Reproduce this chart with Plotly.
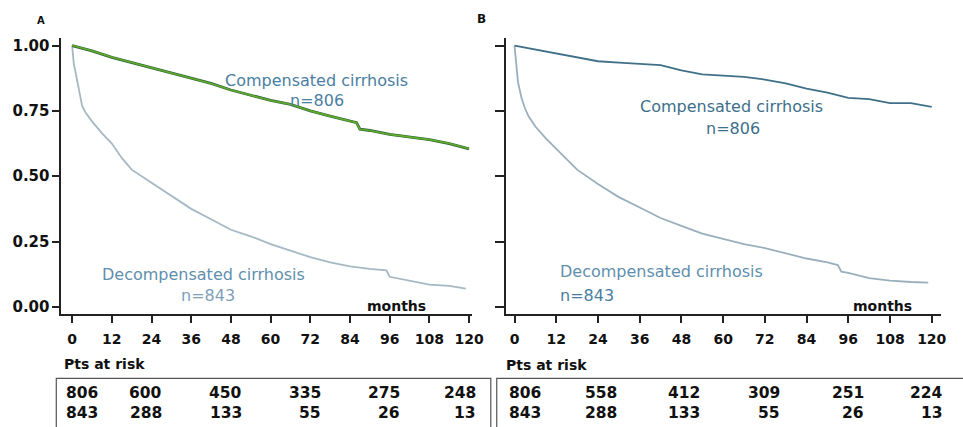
import plotly.graph_objects as go

# ---------------- data ----------------
x_ticks = [0, 12, 24, 36, 48, 60, 72, 84, 96, 108, 120]
y_ticks = [0.0, 0.25, 0.5, 0.75, 1.0]
y_tick_labels = ["0.00", "0.25", "0.50", "0.75", "1.00"]

# Panel A
a_comp_t = [0, 6, 12, 18, 24, 30, 36, 42, 48, 54, 60, 66, 72, 78, 84, 86, 87, 90, 96, 102, 108, 114, 120]
a_comp_s = [1.00, 0.98, 0.955, 0.935, 0.915, 0.895, 0.875, 0.855, 0.83, 0.81, 0.79, 0.775, 0.75, 0.73,
            0.71, 0.705, 0.68, 0.675, 0.66, 0.65, 0.64, 0.625, 0.605]
a_dec_t = [0, 0.5, 1, 2, 3, 4, 6, 9, 12, 15, 18, 24, 30, 36, 42, 48, 54, 60, 66, 72, 78, 84, 90, 95, 96,
           102, 108, 114, 119]
a_dec_s = [1.00, 0.93, 0.90, 0.83, 0.77, 0.745, 0.71, 0.665, 0.625, 0.57, 0.525, 0.475, 0.425, 0.375,
           0.335, 0.295, 0.27, 0.24, 0.215, 0.19, 0.17, 0.155, 0.145, 0.14, 0.115, 0.10, 0.085, 0.08, 0.07]

# Panel B
b_comp_t = [0, 6, 12, 18, 24, 30, 36, 42, 48, 54, 60, 66, 72, 78, 84, 90, 96, 102, 108, 114, 120]
b_comp_s = [1.00, 0.985, 0.97, 0.955, 0.94, 0.935, 0.93, 0.925, 0.905, 0.89, 0.885, 0.88, 0.87, 0.855,
            0.835, 0.82, 0.80, 0.795, 0.78, 0.78, 0.765]
b_dec_t = [0, 0.5, 1, 2, 3, 4, 6, 9, 12, 15, 18, 24, 30, 36, 42, 48, 54, 60, 66, 72, 78, 84, 90, 93, 94,
           96, 102, 108, 114, 119]
b_dec_s = [1.00, 0.92, 0.86, 0.80, 0.76, 0.73, 0.69, 0.645, 0.605, 0.565, 0.525, 0.47, 0.42, 0.38, 0.34,
           0.31, 0.28, 0.26, 0.24, 0.225, 0.205, 0.185, 0.17, 0.16, 0.135, 0.13, 0.11, 0.10, 0.095, 0.093]

risk_months = [0, 24, 48, 72, 96, 120]
a_risk_comp = [806, 600, 450, 335, 275, 248]
a_risk_dec = [843, 288, 133, 55, 26, 13]
b_risk_comp = [806, 558, 412, 309, 251, 224]
b_risk_dec = [843, 288, 133, 55, 26, 13]

# ---------------- figure ----------------
W, H = 963, 427
FAM = "DejaVu Sans, Liberation Sans, Arial"
fig = go.Figure()

fig.add_trace(go.Scatter(x=a_dec_t, y=a_dec_s, mode="lines", line=dict(color="#a6b8c3", width=1.8),
                         xaxis="x", yaxis="y", showlegend=False))
fig.add_trace(go.Scatter(x=a_comp_t, y=a_comp_s, mode="lines", line=dict(color="#2f5e3a", width=2.8),
                         xaxis="x", yaxis="y", showlegend=False))
fig.add_trace(go.Scatter(x=a_comp_t, y=a_comp_s, mode="lines", line=dict(color="#5fae2a", width=1.6),
                         xaxis="x", yaxis="y", showlegend=False))
fig.add_trace(go.Scatter(x=b_dec_t, y=b_dec_s, mode="lines", line=dict(color="#9aafbc", width=1.8),
                         xaxis="x2", yaxis="y2", showlegend=False))
fig.add_trace(go.Scatter(x=b_comp_t, y=b_comp_s, mode="lines", line=dict(color="#3f7088", width=1.8),
                         xaxis="x2", yaxis="y2", showlegend=False))

tickfont = dict(family=FAM, size=14, color="#111111", weight="bold")
ydom = [1 - 315 / H, 1 - 37 / H]
axis_common = dict(showline=True, linecolor="#222222", linewidth=1.5, ticks="outside",
                   tickwidth=1.5, tickcolor="#222222", showgrid=False, zeroline=False)

fig.update_layout(
    width=W, height=H, margin=dict(l=0, r=0, t=0, b=0),
    paper_bgcolor="white", plot_bgcolor="white",
    xaxis=dict(domain=[62 / W, 478 / W], range=[-3.3, 120.9], tickvals=x_ticks, anchor="y",
               ticklen=7, ticklabelstandoff=5, tickfont=tickfont, **axis_common),
    yaxis=dict(domain=ydom, range=[-0.0266, 1.03], tickvals=y_ticks, ticktext=y_tick_labels, anchor="x",
               ticklen=7, tickfont=dict(family=FAM, size=15, color="#111111", weight="bold"), **axis_common),
    xaxis2=dict(domain=[512 / W, 953 / W], range=[-2.56, 122.7], tickvals=x_ticks, anchor="y2",
                ticklen=7, ticklabelstandoff=5, tickfont=tickfont, **axis_common),
    yaxis2=dict(domain=ydom, range=[-0.0266, 1.03], tickvals=y_ticks, showticklabels=False, anchor="x2",
                ticklen=9, **axis_common),
)

ann = []


def txt(x, y, s, xref, yref, color, size=16, bold=False, xanchor="center", yanchor="middle", xshift=0):
    f = dict(family=FAM, size=size, color=color)
    if bold:
        f["weight"] = "bold"
    ann.append(dict(x=x, y=y, xref=xref, yref=yref, text=s, showarrow=False, font=f,
                    xanchor=xanchor, yanchor=yanchor, xshift=xshift))


# curve labels
txt(74, 0.865, "Compensated cirrhosis", "x", "y", "#4a7ea2")
txt(74, 0.79, "n=806", "x", "y", "#4a7ea2")
txt(39.7, 0.122, "Decompensated cirrhosis", "x", "y", "#5f8fae")
txt(41, 0.045, "n=843", "x", "y", "#7fa0b8")
txt(98.2, 0.004, "months", "x", "y", "#111111", size=14, bold=True)

txt(62.5, 0.766, "Compensated cirrhosis", "x2", "y2", "#3d6f8a")
txt(62.8, 0.682, "n=806", "x2", "y2", "#3d6f8a")
txt(12.5, 0.137, "Decompensated cirrhosis", "x2", "y2", "#5f8fae", xanchor="left")
txt(12.5, 0.045, "n=843", "x2", "y2", "#4a7ea2", xanchor="left")
txt(105.7, 0.004, "months", "x2", "y2", "#111111", size=14, bold=True)

# panel letters
txt(42 / W, 1 - 20 / H, "A", "paper", "paper", "#111111", size=10, bold=True)
txt(488 / W, 1 - 18 / H, "B", "paper", "paper", "#111111", size=12, bold=True)

# Pts at risk
txt(63 / W, 1 - 366 / H, "Pts at risk", "paper", "paper", "#111111", size=14, bold=True, xanchor="left")
txt(510 / W, 1 - 367 / H, "Pts at risk", "paper", "paper", "#111111", size=14, bold=True, xanchor="left")

row1_y = 1 - 395 / H
row2_y = 1 - 415 / H
numfont = dict(family=FAM, size=15.5, color="#111111", weight="bold")
col_shift_a = [-8, 12, 13, 13, 12, 9]
col_shift_b = [-8, 21, 21, 17, 18, 13]
for i, m in enumerate(risk_months):
    for xr, vals1, vals2, shifts in (("x", a_risk_comp, a_risk_dec, col_shift_a),
                                      ("x2", b_risk_comp, b_risk_dec, col_shift_b)):
        xa = "left" if i == 0 else "right"
        for yy, v in ((row1_y, vals1[i]), (row2_y, vals2[i])):
            ann.append(dict(x=m, y=yy, xref=xr, yref="paper", text=str(v), showarrow=False,
                            font=numfont, xanchor=xa, yanchor="middle", xshift=shifts[i]))

fig.update_layout(annotations=ann)

# table boxes
shapes = [
    dict(type="rect", xref="paper", yref="paper", x0=57 / W, x1=497 / W, y0=-0.05, y1=1 - 380 / H,
         line=dict(color="#555555", width=1.2)),
    dict(type="rect", xref="paper", yref="paper", x0=503 / W, x1=1.05, y0=-0.05, y1=1 - 380 / H,
         line=dict(color="#555555", width=1.2)),
]
fig.update_layout(shapes=shapes)

fig.write_html("out.html")
